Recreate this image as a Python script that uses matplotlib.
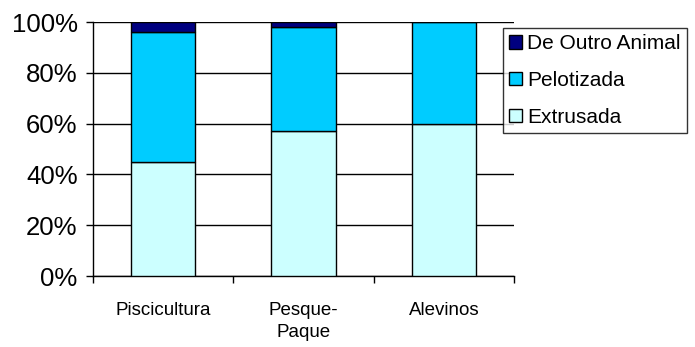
import numpy as np
import matplotlib.pyplot as plt
from matplotlib.ticker import FixedLocator

plt.rcParams['font.family'] = ['Liberation Sans', 'DejaVu Sans']

# shares per destination (%)
categorias = ['Piscicultura', 'Pesque-\nPaque', 'Alevinos']
extrusada = [45, 57, 60]
pelotizada = [51, 41, 40]
outro_animal = [4, 2, 0]

series = [('Extrusada', extrusada, '#CCFFFF'),
          ('Pelotizada', pelotizada, '#00CCFF'),
          ('De Outro Animal', outro_animal, '#000080')]

fig = plt.figure(figsize=(6.95, 3.47), dpi=100)
ax = fig.add_axes([93/695, 71/347, 421/695, 254/347])

x = np.arange(len(categorias))
base = np.zeros(len(categorias))
handles = []
for nome, vals, cor in series:
    b = ax.bar(x, vals, width=0.46, bottom=base, color=cor,
               edgecolor='black', linewidth=1, label=nome, zorder=3)
    handles.append(b)
    base += np.array(vals)

ax.set_xlim(-0.5, 2.5)
ax.set_ylim(0, 100)
ax.set_yticks(np.arange(0, 101, 20))
ax.set_yticklabels([f'{v}%' for v in range(0, 101, 20)], fontsize=18.5)
ax.yaxis.grid(True, color='black', linewidth=1, zorder=0)
ax.tick_params(axis='y', direction='out', length=5, width=1, pad=6)

ax.set_xticks(x)
ax.set_xticklabels(categorias, fontsize=13.5, va='top', linespacing=1.35)
ax.tick_params(axis='x', which='major', length=0, pad=19)
ax.xaxis.set_minor_locator(FixedLocator([-0.5, 0.5, 1.5, 2.5]))
ax.tick_params(axis='x', which='minor', direction='out', length=5, width=1)

for s in ['top', 'right']:
    ax.spines[s].set_visible(False)
for s in ['left', 'bottom']:
    ax.spines[s].set_linewidth(1)

leg = fig.legend(handles[::-1], [h.get_label() for h in handles[::-1]],
                 loc='upper left', bbox_to_anchor=(503/695, 1 - 28/347),
                 fontsize=15, frameon=True, fancybox=False,
                 handlelength=0.6, handleheight=0.6, handletextpad=0.25,
                 borderpad=0.3, labelspacing=0.85, borderaxespad=0)
leg.get_frame().set_edgecolor('black')
leg.get_frame().set_linewidth(1)

fig.savefig('out.png', dpi=100)
